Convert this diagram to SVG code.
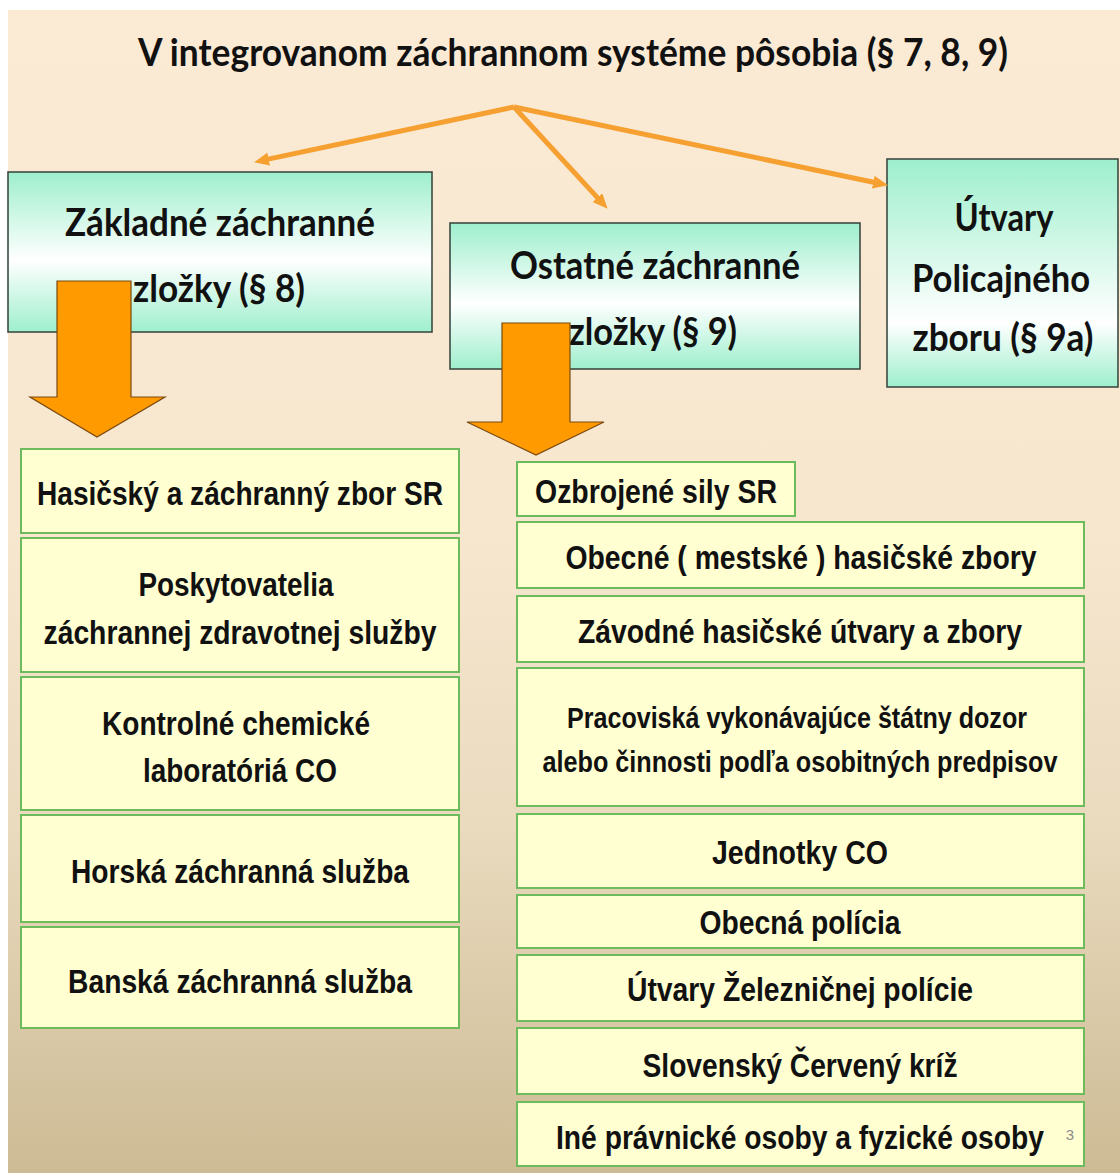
<svg xmlns="http://www.w3.org/2000/svg" width="1120" height="1173" viewBox="0 0 1120 1173">
<defs>
<linearGradient id="bg" x1="0" y1="0" x2="0" y2="1">
<stop offset="0" stop-color="#FBEAD4"/>
<stop offset="0.45" stop-color="#F7E7CF"/>
<stop offset="0.7" stop-color="#EADBBF"/>
<stop offset="1" stop-color="#CDBB95"/>
</linearGradient>
<linearGradient id="mint" x1="0" y1="0" x2="0" y2="1">
<stop offset="0" stop-color="#9EEFCD"/>
<stop offset="0.55" stop-color="#FFFFFF"/>
<stop offset="1" stop-color="#9EEFCD"/>
</linearGradient>
<linearGradient id="mint2" x1="0" y1="0" x2="0" y2="1">
<stop offset="0" stop-color="#9EEFCD"/>
<stop offset="0.72" stop-color="#FFFFFF"/>
<stop offset="1" stop-color="#9EEFCD"/>
</linearGradient>
<marker id="ah" markerUnits="userSpaceOnUse" markerWidth="15" markerHeight="13" refX="4" refY="6.5" orient="auto">
<path d="M0,0 L15,6.5 L0,13 z" fill="#F5A031"/>
</marker>
<style>
.hdr{fill:url(#mint);stroke:#3E4A42;stroke-width:1.6}
.hdr2{fill:url(#mint2);stroke:#3E4A42;stroke-width:1.6}
.item{fill:#FFFFD2;stroke:#6DBB5C;stroke-width:2}
.ht{font-family:Lato,"Open Sans","Liberation Sans",sans-serif;font-weight:700;font-size:38px;fill:#111;text-anchor:middle}
.lt{font-family:"Liberation Sans Narrow","Liberation Sans",Arial,sans-serif;font-weight:700;font-size:34px;fill:#111;text-anchor:middle}
.lts{font-size:29px}
.conn{stroke:#F5A031;stroke-width:5;fill:none;marker-end:url(#ah)}
.blk{fill:#FF9A00;stroke:#7A4A10;stroke-width:1.2}
</style>
</defs>
<rect x="0" y="0" width="1120" height="1173" fill="#FFFFFF"/>
<rect x="8" y="10" width="1112" height="1163" fill="url(#bg)"/>

<g id="title">
<text class="ht" x="573" y="66" font-size="40" textLength="870" lengthAdjust="spacingAndGlyphs">V integrovanom záchrannom systéme pôsobia (§ 7, 8, 9)</text>
</g>

<g id="zakladne">
<rect class="hdr" x="8" y="172" width="424" height="160"/>
<text class="ht" x="220" y="236" textLength="310" lengthAdjust="spacingAndGlyphs">Základné záchranné</text>
<text class="ht" x="219" y="302" textLength="172" lengthAdjust="spacingAndGlyphs">zložky (§ 8)</text>
</g>

<g id="ostatne">
<rect class="hdr" x="450" y="223" width="410" height="146"/>
<text class="ht" x="655" y="279" textLength="290" lengthAdjust="spacingAndGlyphs">Ostatné záchranné</text>
<text class="ht" x="653" y="345" textLength="168" lengthAdjust="spacingAndGlyphs">zložky (§ 9)</text>
</g>

<g id="utvary">
<rect class="hdr2" x="887" y="159" width="231" height="228"/>
<text class="ht" x="1004" y="231" textLength="99" lengthAdjust="spacingAndGlyphs">Útvary</text>
<text class="ht" x="1001" y="292" textLength="178" lengthAdjust="spacingAndGlyphs">Policajného</text>
<text class="ht" x="1003" y="351" textLength="181" lengthAdjust="spacingAndGlyphs">zboru (§ 9a)</text>
</g>

<g id="hasicsky">
<rect class="item" x="21" y="449" width="438" height="84"/>
<text class="lt" x="240" y="505" textLength="406" lengthAdjust="spacingAndGlyphs">Hasičský a záchranný zbor SR</text>
</g>
<g id="poskytovatelia">
<rect class="item" x="21" y="538" width="438" height="134"/>
<text class="lt" x="236" y="596" textLength="195" lengthAdjust="spacingAndGlyphs">Poskytovatelia</text>
<text class="lt" x="240" y="644" textLength="393" lengthAdjust="spacingAndGlyphs">záchrannej zdravotnej služby</text>
</g>
<g id="kontrolne">
<rect class="item" x="21" y="677" width="438" height="133"/>
<text class="lt" x="236" y="735" textLength="268" lengthAdjust="spacingAndGlyphs">Kontrolné chemické</text>
<text class="lt" x="240" y="782" textLength="194" lengthAdjust="spacingAndGlyphs">laboratóriá CO</text>
</g>
<g id="horska">
<rect class="item" x="21" y="815" width="438" height="107"/>
<text class="lt" x="240" y="883" textLength="338" lengthAdjust="spacingAndGlyphs">Horská záchranná služba</text>
</g>
<g id="banska">
<rect class="item" x="21" y="927" width="438" height="101"/>
<text class="lt" x="240" y="993" textLength="344" lengthAdjust="spacingAndGlyphs">Banská záchranná služba</text>
</g>

<g id="ozbrojene">
<rect class="item" x="517" y="462" width="278" height="54"/>
<text class="lt" x="656" y="503" textLength="242" lengthAdjust="spacingAndGlyphs">Ozbrojené sily SR</text>
</g>
<g id="obecne">
<rect class="item" x="517" y="522" width="567" height="66"/>
<text class="lt" x="801" y="569" textLength="471" lengthAdjust="spacingAndGlyphs">Obecné ( mestské ) hasičské zbory</text>
</g>
<g id="zavodne">
<rect class="item" x="517" y="596" width="567" height="66"/>
<text class="lt" x="800" y="643" textLength="444" lengthAdjust="spacingAndGlyphs">Závodné hasičské útvary a zbory</text>
</g>
<g id="pracoviska">
<rect class="item" x="517" y="668" width="567" height="138"/>
<text class="lt lts" x="797" y="728" textLength="460" lengthAdjust="spacingAndGlyphs">Pracoviská vykonávajúce štátny dozor</text>
<text class="lt lts" x="800" y="772" textLength="515" lengthAdjust="spacingAndGlyphs">alebo činnosti podľa osobitných predpisov</text>
</g>
<g id="jednotky">
<rect class="item" x="517" y="814" width="567" height="74"/>
<text class="lt" x="800" y="864" textLength="176" lengthAdjust="spacingAndGlyphs">Jednotky CO</text>
</g>
<g id="obecna-policia">
<rect class="item" x="517" y="895" width="567" height="53"/>
<text class="lt" x="800" y="934" textLength="201" lengthAdjust="spacingAndGlyphs">Obecná polícia</text>
</g>
<g id="zeleznicna">
<rect class="item" x="517" y="955" width="567" height="66"/>
<text class="lt" x="800" y="1001" textLength="346" lengthAdjust="spacingAndGlyphs">Útvary Železničnej polície</text>
</g>
<g id="cerveny-kriz">
<rect class="item" x="517" y="1028" width="567" height="66"/>
<text class="lt" x="800" y="1077" textLength="315" lengthAdjust="spacingAndGlyphs">Slovenský Červený kríž</text>
</g>
<g id="ine-osoby">
<rect class="item" x="517" y="1102" width="567" height="64"/>
<text class="lt" x="800" y="1149" textLength="488" lengthAdjust="spacingAndGlyphs">Iné právnické osoby a fyzické osoby</text>
</g>

<g id="page-number">
<text x="1070" y="1140" font-family="Liberation Sans, Arial, sans-serif" font-size="15" fill="#8C8C8C" text-anchor="middle">3</text>
</g>

<g id="connectors">
<line class="conn" x1="514" y1="107" x2="264.8" y2="159.9"/>
<line class="conn" x1="514" y1="107" x2="600.2" y2="200.6"/>
<line class="conn" x1="514" y1="107" x2="877.2" y2="183"/>
<polygon class="blk" points="57,281 131,281 131,397 165,397 97,437 30,397 57,397"/>
<polygon class="blk" points="502,323 570,323 570,422 604,422 536,455 467,422 502,422"/>
</g>
</svg>
